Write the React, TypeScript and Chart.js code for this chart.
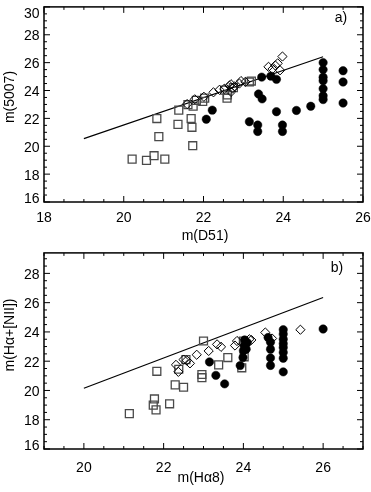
import React, { useEffect, useRef } from "react";
import { Chart, registerables } from "chart.js";

Chart.register(...registerables);

const FONT = '"Liberation Sans", Arial, Helvetica, sans-serif';

// ---------- Panel a) : m(5007) vs m(D51) ----------
const aLineX = [19, 25];
const aLineY = [20.55, 26.42];

const aSquareX = [20.21, 20.57, 20.76, 21.03, 20.88, 20.83, 21.36, 21.38, 21.69, 21.71, 21.73, 21.74, 21.82, 21.61, 21.98, 22.03, 22.53, 22.59, 22.6, 22.75, 23.15, 23.2];
const aSquareY = [19.08, 18.99, 19.32, 19.08, 20.69, 21.99, 21.57, 22.59, 21.99, 21.36, 20.04, 22.87, 23.29, 22.98, 23.22, 23.45, 24.03, 23.45, 23.68, 24.2, 24.61, 24.68];

const aDiamondX = [21.59, 21.78, 22.01, 22.25, 22.4, 22.52, 22.65, 22.69, 22.73, 22.69, 22.78, 22.9, 22.94, 23.05, 23.63, 23.73, 23.8, 23.86, 23.92, 23.98];
const aDiamondY = [23.03, 23.37, 23.55, 23.87, 24.05, 24.12, 24.35, 24.45, 24.15, 23.9, 24.3, 24.5, 24.68, 24.62, 25.7, 25.54, 25.8, 25.95, 25.45, 26.44];

const aCircleX = [22.07, 22.22, 23.15, 23.36, 23.36, 23.38, 23.47, 23.46, 23.69, 23.83, 23.83, 23.98, 23.98, 24.33, 24.69, 25, 25, 25, 25, 25, 25, 25, 25.5, 25.5, 25.5];
const aCircleY = [21.94, 22.59, 21.76, 21.52, 21.06, 23.75, 23.4, 24.96, 25.03, 24.8, 22.48, 21.52, 21.06, 22.57, 22.87, 26.0, 25.5, 24.95, 24.7, 24.13, 23.62, 23.35, 25.42, 24.61, 23.1];

const aXTicks = [18, 20, 22, 24, 26];
const aYTicks = [16, 18, 20, 22, 24, 26, 28, 30];

// ---------- Panel b) : m(Ha+[NII]) vs m(Ha8) ----------
const bLineX = [20, 26];
const bLineY = [20.15, 26.35];

const bSquareX = [21.14, 21.77, 21.74, 21.81, 22.15, 21.83, 22.29, 22.5, 22.38, 22.56, 22.96, 22.96, 23.0, 23.38, 23.61, 23.96, 24.0, 24.02];
const bSquareY = [18.42, 19.42, 19.0, 18.67, 19.09, 21.31, 20.38, 20.22, 21.45, 22.11, 21.09, 20.87, 23.38, 21.75, 22.25, 21.55, 23.38, 22.3];

const bDiamondX = [22.31, 22.37, 22.5, 22.58, 22.66, 22.83, 23.13, 23.34, 23.44, 23.79, 23.84, 24.15, 24.2, 24.55, 24.72, 25.43];
const bDiamondY = [21.75, 21.27, 22.11, 22.05, 21.85, 22.44, 22.7, 23.15, 22.98, 23.07, 23.38, 23.5, 23.45, 23.96, 23.55, 24.15];

const bCircleX = [23.15, 23.31, 23.53, 23.92, 23.99, 24.0, 24.02, 24.07, 24.1, 24.03, 24.62, 24.68, 24.68, 24.68, 24.68, 25, 25, 25, 25, 25, 25, 25, 25, 26];
const bCircleY = [21.95, 21.03, 20.45, 21.7, 22.25, 22.72, 23.05, 22.82, 23.27, 23.45, 23.62, 23.3, 22.82, 22.22, 21.71, 24.15, 23.85, 23.5, 23.2, 22.93, 22.6, 22.2, 21.27, 24.2];

const bXTicks = [20, 22, 24, 26];
const bYTicks = [16, 18, 20, 22, 24, 26, 28];

type PanelCfg = {
  lineX: number[]; lineY: number[];
  sqX: number[]; sqY: number[];
  diX: number[]; diY: number[];
  ciX: number[]; ciY: number[];
  xMin: number; xMax: number; yMin: number; yMax: number;
  xTicks: number[]; yTicks: number[];
  xTitle: string; yTitle: string; tag: string;
  padTop: number; xScaleH: number;
  xLabelDy: number; xTitlePos: [number, number]; yTitlePos: [number, number]; tagPos: [number, number];
};

const panelA: PanelCfg = {
  lineX: aLineX, lineY: aLineY, sqX: aSquareX, sqY: aSquareY, diX: aDiamondX, diY: aDiamondY, ciX: aCircleX, ciY: aCircleY,
  xMin: 18, xMax: 26, yMin: 16, yMax: 30, xTicks: aXTicks, yTicks: aYTicks,
  xTitle: "m(D51)", yTitle: "m(5007)", tag: "a)",
  padTop: 1, xScaleH: 44, xLabelDy: 15, xTitlePos: [205, 235], yTitlePos: [9, 97], tagPos: [341, 17],
};

const panelB: PanelCfg = {
  lineX: bLineX, lineY: bLineY, sqX: bSquareX, sqY: bSquareY, diX: bDiamondX, diY: bDiamondY, ciX: bCircleX, ciY: bCircleY,
  xMin: 19, xMax: 27, yMin: 16, yMax: 29.4, xTicks: bXTicks, yTicks: bYTicks,
  xTitle: "m(H\u03b18)", yTitle: "m(H\u03b1+[NII])", tag: "b)",
  padTop: 2, xScaleH: 43, xLabelDy: 17.5, xTitlePos: [201, 231], yTitlePos: [9, 89], tagPos: [337, 21],
};

const pts = (xs: number[], ys: number[]) => xs.map((x, i) => ({ x, y: ys[i] }));
const isMajor = (v: number) => Math.abs(v / 2 - Math.round(v / 2)) < 1e-6;

function Panel({ cfg, top }: { cfg: PanelCfg; top: number }) {
  const ref = useRef<HTMLCanvasElement>(null);
  useEffect(() => {
    const fontPx = 14;
    const framePlugin = {
      id: "idlFrame",
      afterDraw(chart: any) {
        const { ctx, chartArea: a } = chart;
        const xs = chart.scales.x;
        const ys = chart.scales.y;
        ctx.save();
        ctx.strokeStyle = "#000";
        ctx.lineWidth = 1.5;
        ctx.strokeRect(a.left, a.top, a.right - a.left, a.bottom - a.top);
        ctx.lineWidth = 1;
        ctx.beginPath();
        for (let v = cfg.xMin; v <= cfg.xMax + 1e-9; v += 0.5) {
          const p = xs.getPixelForValue(v);
          const L = isMajor(v) ? 6 : 3;
          ctx.moveTo(p, a.bottom); ctx.lineTo(p, a.bottom - L);
          ctx.moveTo(p, a.top); ctx.lineTo(p, a.top + L);
        }
        for (let v = cfg.yMin; v <= cfg.yMax + 1e-9; v += 0.5) {
          const p = ys.getPixelForValue(v);
          const L = isMajor(v) ? 6 : 3;
          ctx.moveTo(a.left, p); ctx.lineTo(a.left + L, p);
          ctx.moveTo(a.right, p); ctx.lineTo(a.right - L, p);
        }
        ctx.stroke();

        ctx.fillStyle = "#000";
        ctx.font = `${fontPx}px ${FONT}`;
        const cap = fontPx * 0.36;
        ctx.textAlign = "center";
        ctx.textBaseline = "alphabetic";
        cfg.xTicks.forEach((v) => {
          ctx.fillText(String(v), xs.getPixelForValue(v), a.bottom + cfg.xLabelDy + cap);
        });
        ctx.textAlign = "right";
        cfg.yTicks.forEach((v) => {
          let p = ys.getPixelForValue(v) + 0.5;
          p = Math.min(Math.max(p, a.top + 6), a.bottom - 4.5);
          ctx.fillText(String(v), a.left - 4.5, p + cap);
        });
        ctx.textAlign = "center";
        ctx.fillText(cfg.xTitle, cfg.xTitlePos[0], cfg.xTitlePos[1] + cap);
        ctx.fillText(cfg.tag, cfg.tagPos[0], cfg.tagPos[1] + cap);
        ctx.save();
        ctx.translate(cfg.yTitlePos[0], cfg.yTitlePos[1]);
        ctx.rotate(-Math.PI / 2);
        ctx.fillText(cfg.yTitle, 0, cap);
        ctx.restore();
        ctx.restore();
      },
    };

    const chart = new Chart(ref.current!, {
      type: "scatter",
      data: {
        datasets: [
          {
            label: "circles",
            data: pts(cfg.ciX, cfg.ciY),
            pointStyle: "circle",
            pointRadius: 4.2,
            backgroundColor: "#000",
            borderColor: "#000",
            borderWidth: 0.5,
          },
          {
            label: "diamonds",
            data: pts(cfg.diX, cfg.diY),
            pointStyle: "rectRot",
            pointRadius: 4.6,
            backgroundColor: "rgba(0,0,0,0)",
            borderColor: "#000",
            borderWidth: 1,
          },
          {
            label: "squares",
            data: pts(cfg.sqX, cfg.sqY),
            pointStyle: "rect",
            pointRadius: 5.6,
            backgroundColor: "rgba(0,0,0,0)",
            borderColor: "#4a4a4a",
            borderWidth: 1.3,
          },
          {
            type: "line",
            label: "line",
            data: pts(cfg.lineX, cfg.lineY),
            showLine: true,
            pointRadius: 0,
            borderColor: "#000",
            borderWidth: 1.2,
            fill: false,
          } as any,
        ],
      },
      options: {
        animation: false,
        responsive: false,
        devicePixelRatio: 1,
        events: [],
        layout: { padding: { left: 0, right: 8, top: cfg.padTop, bottom: 0 } },
        plugins: { legend: { display: false }, tooltip: { enabled: false } },
        scales: {
          x: {
            type: "linear",
            min: cfg.xMin,
            max: cfg.xMax,
            grid: { display: false, drawTicks: false },
            border: { display: false },
            ticks: { display: false },
            afterBuildTicks: (s: any) => { s.ticks = cfg.xTicks.map((v) => ({ value: v })); },
            afterFit: (s: any) => { s.height = cfg.xScaleH; s.paddingLeft = 0; s.paddingRight = 0; },
          },
          y: {
            type: "linear",
            min: cfg.yMin,
            max: cfg.yMax,
            grid: { display: false, drawTicks: false },
            border: { display: false },
            ticks: { display: false },
            afterBuildTicks: (s: any) => { s.ticks = cfg.yTicks.map((v) => ({ value: v })); },
            afterFit: (s: any) => { s.width = 44; s.paddingTop = 0; s.paddingBottom = 0; },
          },
        },
      },
      plugins: [framePlugin],
    } as any);
    return () => chart.destroy();
  }, [cfg]);
  return (
    <canvas
      ref={ref}
      width={371}
      height={246}
      style={{ position: "absolute", left: 0, top, width: 371, height: 246, display: "block" }}
    />
  );
}

export default function App() {
  return (
    <div style={{ position: "absolute", left: 0, top: 0, width: 371, height: 492, background: "#fff" }}>
      <Panel cfg={panelA} top={0} />
      <Panel cfg={panelB} top={246} />
    </div>
  );
}
